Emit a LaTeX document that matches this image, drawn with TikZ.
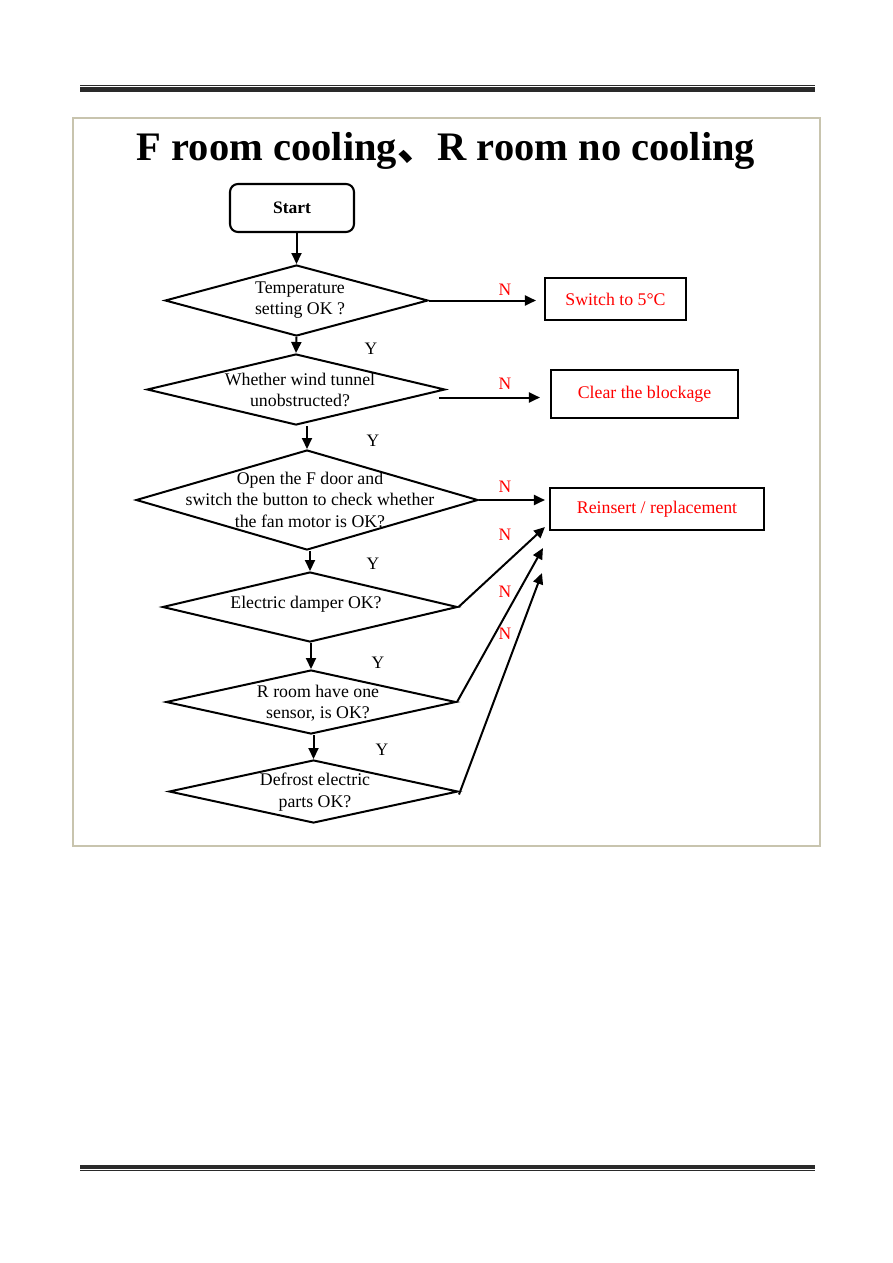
\documentclass[tikz,border=0pt]{standalone}
\usepackage{fontspec}
\setmainfont{Liberation Serif}
\newfontfamily\cjk{Noto Sans CJK SC}
\usetikzlibrary{shapes.geometric,arrows.meta,calc}
\definecolor{framec}{HTML}{C8C4AE}
\definecolor{rulec}{HTML}{2A2A2A}
\definecolor{nred}{HTML}{FF0000}
\begin{document}
\begin{tikzpicture}[x=1pt,y=-1pt,
  dia/.style 2 args={draw,line width=2pt,shape=diamond,inner sep=0pt,minimum width=#1,minimum height=#2},
  txt/.style={align=center,font=\fontsize{17.8}{21.5}\selectfont,inner sep=0pt},
  outbox/.style={draw,line width=2.1pt,inner sep=0pt,text=nred,font=\fontsize{17.8}{20}\selectfont},
  arr/.style={line width=2pt,-{Triangle[length=11pt,width=10pt]}},
  nlab/.style={text=nred,font=\fontsize{17.5}{20}\selectfont,inner sep=0pt},
  ylab/.style={font=\fontsize{17.5}{20}\selectfont,inner sep=0pt}]
\useasboundingbox (0,0) rectangle (893,1263);
\fill[white] (0,0) rectangle (893,1263);
% page rules
\fill[rulec] (80,85) rectangle (815,86.2);
\fill[rulec] (80,87) rectangle (815,92);
\fill[rulec] (80,1165) rectangle (815,1169);
\fill[rulec] (80,1170) rectangle (815,1171.3);
% frame
\draw[framec,line width=1.6pt] (73,118) rectangle (820,846);
% title
\node[inner sep=0pt,font=\fontsize{40.5}{48}\selectfont\bfseries] (title) at (446,151) {F room cooling{\cjk 、}R room no cooling};
% start
\node[draw,line width=2.1pt,rounded corners=8pt,minimum width=124pt,minimum height=48pt,inner sep=0pt,font=\fontsize{17.5}{20}\selectfont\bfseries] (start) at (292,208) {Start};
% diamonds
\node[dia={263pt}{71pt}] (d1) at (296.5,300.5) {};
\node[txt] (t1) at (300,300) {Temperature\\setting OK ?};
\node[dia={298pt}{71pt}] (d2) at (296,389.5) {};
\node[txt] (t2) at (300,390) {Whether wind tunnel\\unobstructed?};
\node[dia={342pt}{100pt}] (d3) at (307,500) {};
\node[txt] (t3) at (310,499.5) {Open the F door and\\switch the button to check whether\\the fan motor is OK?};
\node[dia={295pt}{70pt}] (d4) at (310,607) {};
\node[txt] (t4) at (306,604) {Electric damper OK?};
\node[dia={290pt}{64pt}] (d5) at (311,702) {};
\node[txt] (t5) at (318,703) {R room have one\\sensor, is OK?};
\node[dia={289pt}{63pt}] (d6) at (313.5,791.5) {};
\node[txt] (t6) at (315,792) {Defrost electric\\parts OK?};
% outcome boxes
\node[outbox,minimum width=141pt,minimum height=42pt] (s1) at (615.5,299) {Switch to 5°C};
\node[outbox,minimum width=187pt,minimum height=48pt] (c2) at (644.5,394) {Clear the blockage};
\node[outbox,minimum width=214pt,minimum height=42pt] (rr) at (657,509) {Reinsert / replacement};
% vertical flow
\draw[arr] (start.south -| d1.north) -- (d1.north);
\draw[arr] (d1.south) -- (d2.north);
\draw[arr] (d2.south -| d3.north) -- (d3.north);
\draw[arr] (d3.south -| d4.north) -- (d4.north);
\draw[arr] (d4.south -| d5.north) -- (d5.north);
\draw[arr] (d5.south -| d6.north) -- (d6.north);
% N branches
\draw[arr,shorten >=8pt] (d1.east) -- (d1.east -| s1.west);
\coordinate (n2) at ([xshift=-7pt,yshift=-8pt]d2.east);
\draw[arr,shorten >=10pt] (n2) -- (n2 -| c2.west);
\draw[arr,shorten >=4pt] (d3.east) -- (d3.east -| rr.west);
\coordinate (e4) at ([xshift=-4pt,yshift=4pt]rr.south west);
\coordinate (e5) at ([xshift=-6pt,yshift=-17pt]rr.south west);
\coordinate (e6) at ([xshift=-7pt,yshift=-42pt]rr.south west);
\draw[arr] (d4.east) -- (e4);
\draw[arr] (d5.east) -- (e5);
\draw[arr] ([yshift=-3pt]d6.east) -- (e6);
% labels
\node[nlab] (n1l) at (505,290) {N};
\node[nlab] (n2l) at (505,384) {N};
\node[nlab] (n3l) at (505,487) {N};
\node[nlab] (n4l) at (505,535) {N};
\node[nlab] (n5l) at (505,592) {N};
\node[nlab] (n6l) at (505,634) {N};
\node[ylab] (y1l) at (371,349) {Y};
\node[ylab] (y2l) at (373,441) {Y};
\node[ylab] (y3l) at (373,564) {Y};
\node[ylab] (y4l) at (378,663) {Y};
\node[ylab] (y5l) at (382,750) {Y};
\end{tikzpicture}
\end{document}
